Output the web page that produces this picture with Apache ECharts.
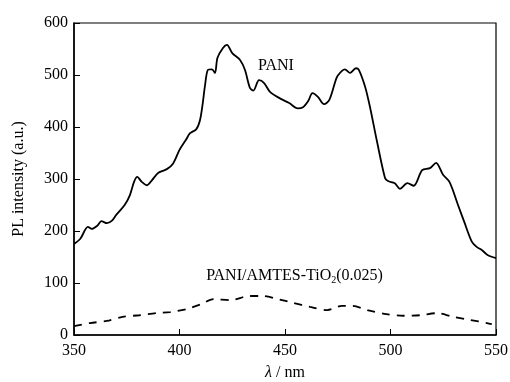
<!DOCTYPE html>
<html><head><meta charset="utf-8">
<script src="https://cdn.jsdelivr.net/npm/echarts@6/dist/echarts.min.js"></script>
<style>html,body{margin:0;padding:0;background:#fff}#c{width:510px;height:382px}</style>
</head><body><div id="c"></div>
<script>
const xTicks = [350, 400, 450, 500, 550];
const yTicks = [0, 100, 200, 300, 400, 500, 600];
const paniX = [350,353,356.6,358.5,361,363,365.6,368,370,374,376.5,378.5,380,382,384.6,387,390,394,397,400,403,405,408,409.7,411,412,413.5,415.4,416.8,418,420.6,422.5,425,428.7,431,433.4,435,437.7,440,443,447.6,452,456,458.5,461,463,465.6,468.5,471,474.6,477,478.4,480.8,483.6,485,488,490.3,493.6,497.4,498.8,502,504.5,508,511,515,518.7,521.6,524.9,528,532,535,538.6,541,543.4,546,550];
const paniY = [175,185,208,204,210,219,215,220,231,250,269,295,304,295,288,298,312,319,330,356,375,388,396,413,445,477,510,511,504,533,552,558,542,529,510,475,470,490,485,467,455,446,436,438,450,465,458,444,452,496,508,511,504,513,510,477,438,372,302,296,292,281,292,287,317,321,331,308,294,250,217,179,169,163,154,148];
const compX = [350,357.6,365.6,373,381,389,395.5,403.5,410.7,416,424,433.4,439.6,447.6,453.8,461.8,470,477,482,489,498,506,514,522,529.6,537.7,545.7,548];
const compY = [17,23,27,35,38,42,44,50,60,69,67,75,75,68,62,54,48,56,56,48,40,37,38,42,35,29,23,21];
const paniLabel = "PANI";
const compLabel = "PANI/AMTES-TiO{s|2}(0.025)";
const xName = "{i|λ} / nm";
const yName = "PL intensity (a.u.)";

const serif = "'Liberation Serif', 'DejaVu Serif', serif";
const chart = echarts.init(document.getElementById('c'));
chart.setOption({
  animation: false,
  backgroundColor: '#fff',
  grid: {left: 74, right: 14, top: 23, bottom: 47, show: true, borderColor: '#000', borderWidth: 1.2, outerBoundsMode: 'none', containLabel: false},
  xAxis: {
    type: 'value', min: xTicks[0], max: xTicks[xTicks.length-1], interval: 50,
    axisLine: {lineStyle: {color: '#000', width: 1.5}},
    axisTick: {inside: true, length: 6, lineStyle: {color: '#000'}},
    axisLabel: {color: '#000', fontFamily: serif, fontSize: 16, margin: 8},
    splitLine: {show: false}
  },
  yAxis: {
    type: 'value', min: yTicks[0], max: yTicks[yTicks.length-1], interval: 100,
    name: yName, nameLocation: 'middle', nameGap: 47,
    nameTextStyle: {color: '#000', fontFamily: serif, fontSize: 16},
    axisLine: {lineStyle: {color: '#000', width: 1.5}},
    axisTick: {inside: true, length: 6, lineStyle: {color: '#000'}},
    axisLabel: {color: '#000', fontFamily: serif, fontSize: 16, margin: 6},
    splitLine: {show: false}
  },
  series: [
    {type: 'line', data: paniX.map((x,i)=>[x,paniY[i]]), symbol: 'none', smooth: 0.3,
     lineStyle: {color: '#000', width: 1.8}},
    {type: 'line', data: compX.map((x,i)=>[x,compY[i]]), symbol: 'none', smooth: 0.3,
     lineStyle: {color: '#000', width: 1.8, type: [8, 7]}}
  ]
});
const p1 = chart.convertToPixel({gridIndex: 0}, [445.7, 518]);
const p2 = chart.convertToPixel({gridIndex: 0}, [454.5, 113]);
const p3 = chart.convertToPixel({gridIndex: 0}, [450, 0]);
chart.setOption({
  graphic: [
    {type: 'text', x: p1[0], y: p1[1], style: {text: paniLabel, font: "16px 'Liberation Serif'", fill: '#000', align: 'center', verticalAlign: 'middle'}},
    {type: 'text', x: p2[0], y: p2[1], style: {text: compLabel, font: "16px 'Liberation Serif'", fill: '#000', align: 'center', verticalAlign: 'middle',
      rich: {s: {fontSize: 10, fontFamily: serif, fill: '#000', padding: [9, 0, 0, 0]}}}},
    {type: 'text', x: p3[0], y: p3[1] + 38, style: {text: xName, font: "16px 'Liberation Serif'", fill: '#000', align: 'center', verticalAlign: 'middle',
      rich: {i: {fontFamily: serif, fontStyle: 'italic', fontSize: 16, fill: '#000'}}}}
  ]
});
</script></body></html>
